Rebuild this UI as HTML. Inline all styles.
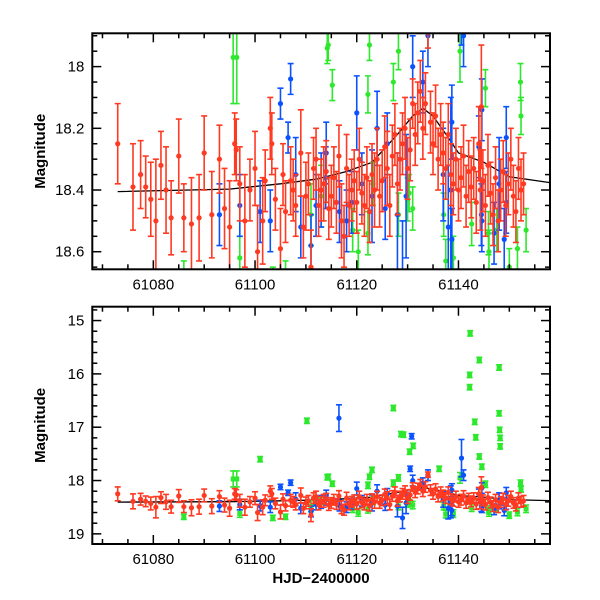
<!DOCTYPE html>
<html><head><meta charset="utf-8"><style>
body{margin:0;background:#fff}
svg{display:block;font-family:"Liberation Sans",sans-serif}
</style></head><body>
<svg id="c" width="600" height="600"></svg>
<script>
const redT=[61073,61076,61077.5,61078.5,61079.5,61080.5,61081.5,61082.5,61083.5,61085,61086,61087.5,61089,61090,61091.5,61093,61094,61095,61096,61096.3,61097,61098,61099,61100,61100.5,61101.5,61102,61103,61103.3,61104,61105,61105.5,61106,61107,61107.5,61108,61109,61109.5,61110,61110.5,61111,61111.5,61112,61112.5,61113,61113.5,61114,61114.5,61115,61115.5,61116,61116.5,61117,61117.5,61118,61118.5,61119,61119.5,61120,61120.5,61121,61121.5,61122,61122.5,61123,61123.5,61124,61124.5,61125,61125.5,61126,61126.5,61127,61127.5,61128,61128.5,61129,61129.5,61130,61130.5,61131,61131.5,61132,61132.5,61133,61133.5,61134,61134.5,61135,61135.5,61136,61136.5,61137,61137.5,61138,61138.5,61139,61139.5,61140,61140.5,61141,61141.5,61142,61142.5,61143,61143.5,61144,61144.3,61144.5,61144.8,61145.3,61145.8,61146.3,61146.8,61147.3,61147.8,61148.3,61148.8,61149.3,61149.8,61150.3,61150.8,61151.3,61151.8,61152.3,61152.8];
const redM=[18.25,18.39,18.35,18.39,18.43,18.50,18.32,18.40,18.49,18.29,18.49,18.51,18.49,18.28,18.48,18.30,18.46,18.52,18.25,18.27,18.38,18.50,18.40,18.33,18.60,18.50,18.37,18.20,18.25,18.43,18.59,18.35,18.47,18.37,18.40,18.45,18.28,18.52,18.42,18.38,18.65,18.33,18.30,18.45,18.40,18.38,18.34,18.46,18.42,18.36,18.44,18.29,18.50,18.55,18.33,18.45,18.40,18.37,18.44,18.30,18.41,18.45,18.36,18.47,18.35,18.40,18.30,18.42,18.37,18.26,18.33,18.45,18.29,18.22,18.38,18.30,18.25,18.20,18.33,18.27,18.12,18.22,18.15,18.08,18.20,18.12,17.89,18.18,18.25,18.16,18.30,18.22,18.28,18.33,18.22,18.35,18.38,18.30,18.40,18.36,18.29,18.42,18.34,18.39,18.33,18.44,18.25,18.40,18.13,18.37,18.45,18.32,18.41,18.48,18.36,18.50,18.40,18.34,18.45,18.38,18.30,18.42,18.47,18.33,18.40,18.38];
const redE=[0.13,0.14,0.11,0.1,0.12,0.2,0.11,0.14,0.12,0.12,0.11,0.15,0.14,0.12,0.14,0.11,0.13,0.15,0.1,0.1,0.12,0.15,0.1,0.12,0.15,0.14,0.1,0.1,0.1,0.1,0.13,0.1,0.1,0.11,0.1,0.1,0.14,0.1,0.11,0.1,0.12,0.1,0.1,0.1,0.1,0.12,0.1,0.1,0.1,0.1,0.1,0.1,0.12,0.1,0.11,0.1,0.1,0.1,0.1,0.1,0.1,0.1,0.1,0.1,0.1,0.12,0.1,0.1,0.1,0.1,0.12,0.1,0.1,0.1,0.1,0.1,0.1,0.1,0.1,0.1,0.08,0.1,0.1,0.1,0.1,0.1,0.05,0.1,0.1,0.1,0.1,0.1,0.1,0.1,0.1,0.1,0.1,0.1,0.1,0.1,0.1,0.1,0.1,0.1,0.1,0.1,0.12,0.13,0.2,0.1,0.1,0.1,0.1,0.1,0.1,0.1,0.1,0.1,0.1,0.1,0.1,0.1,0.1,0.1,0.1,0.1];
const blueT=[61093,61097,61101,61103,61105,61106.5,61107,61108,61109,61112,61113,61114,61116.5,61118,61119,61120,61121,61123,61124,61126,61128,61129,61130.5,61130.8,61131,61133,61134,61137,61138,61138.5,61140.6,61141,61144,61144.5,61147,61148,61149,61113.9,61116.6,61125.6,61129.7,61138.7,61138.7,61144.6,61144.6,61149.4,61149.4,61111];
const blueM=[18.48,18.45,18.47,18.50,18.12,18.23,18.04,18.35,18.52,18.45,18.40,18.28,16.83,18.50,18.44,18.15,18.38,18.42,18.20,18.25,18.48,18.70,17.78,17.17,18.00,18.05,17.90,18.35,18.52,18.40,17.58,17.90,18.26,18.48,18.54,18.38,18.56,18.36,18.47,18.46,18.42,18.18,18.56,18.14,18.50,18.23,18.44,18.58];
const blueE=[0.1,0.1,0.1,0.1,0.05,0.05,0.05,0.12,0.1,0.1,0.12,0.1,0.25,0.1,0.1,0.12,0.1,0.15,0.12,0.1,0.2,0.2,0.05,0.05,0.1,0.1,0.1,0.15,0.2,0.3,0.35,0.1,0.1,0.1,0.1,0.15,0.1,0.1,0.1,0.1,0.2,0.12,0.1,0.1,0.1,0.1,0.1,0.1];
const greenT=[61086,61095.7,61096.4,61097,61101,61103.5,61106,61110.2,61111,61113,61114.2,61114.4,61115.2,61119.2,61122.2,61122.2,61122.5,61123,61127.2,61127.2,61128.2,61128.7,61129.2,61130,61130.4,61131,61131.1,61136.2,61137.1,61137.5,61140.3,61142.2,61142.3,61142.2,61142.6,61143.2,61143.4,61144.1,61144.1,61144.6,61145.3,61145.9,61148,61148,61148.1,61148.2,61148.2,61151.6,61152.2,61152.3,61153.3,61120.3,61123.2,61128.2,61130.3,61147.5,61146,61139,61150];
const greenM=[18.68,17.97,17.97,18.62,17.60,18.70,18.68,16.88,18.48,18.42,17.94,17.93,18.06,18.53,18.09,18.54,17.93,17.80,16.64,18.05,17.95,17.13,17.14,18.43,17.46,18.46,17.35,17.78,18.48,18.63,17.95,16.02,15.24,16.25,18.51,16.90,17.19,15.74,17.55,17.74,18.07,18.54,15.88,16.74,17.05,17.20,17.36,18.59,18.05,18.16,18.53,18.60,18.38,18.48,18.41,18.53,18.60,18.62,18.65];
const greenE=[0.05,0.15,0.15,0.07,0.05,0.05,0.05,0.05,0.1,0.1,0.05,0.05,0.05,0.07,0.06,0.07,0.05,0.05,0.05,0.06,0.06,0.05,0.05,0.07,0.05,0.07,0.05,0.05,0.07,0.07,0.1,0.05,0.05,0.05,0.07,0.05,0.05,0.05,0.05,0.05,0.06,0.07,0.05,0.05,0.05,0.05,0.05,0.07,0.06,0.06,0.07,0.07,0.07,0.07,0.06,0.07,0.07,0.07,0.06];
const modelT=[61073,61095,61105,61112,61118,61123,61128,61131,61133,61135,61138,61140,61145,61150,61158];
const modelM=[18.405,18.397,18.38,18.365,18.34,18.31,18.22,18.16,18.135,18.16,18.23,18.28,18.31,18.357,18.376];
const xTicks=[61080,61100,61120,61140];
const topTicks=[18,18.2,18.4,18.6];
const botTicks=[15,16,17,18,19];

const NS="http://www.w3.org/2000/svg";
const svg=document.getElementById('c');
function el(tag,attrs,parent){const e=document.createElementNS(NS,tag);for(const k in attrs)e.setAttribute(k,attrs[k]);(parent||svg).appendChild(e);return e;}
const X0=92.3,X1=550,D0=61068,D1=61158;
const xs=d=>X0+(d-D0)/(D1-D0)*(X1-X0);
const panels=[
 {name:'top',y0:33.3,y1:269.3,m0:17.892,m1:18.657,ticks:topTicks,minor:0.05,fmt:v=>v===18?'18':v.toFixed(1),big:false},
 {name:'bottom',y0:306.7,y1:544,m0:14.74,m1:19.19,ticks:botTicks,minor:0.2,fmt:v=>String(v),big:true}
];
const defs=el('defs',{});
panels.forEach((p,pi)=>{
 const ys=m=>p.y0+(m-p.m0)/(p.m1-p.m0)*(p.y1-p.y0);
 const cp=el('clipPath',{id:'clip'+pi},defs);
 el('rect',{x:X0,y:p.y0,width:X1-X0,height:p.y1-p.y0},cp);
 const g=el('g',{'clip-path':'url(#clip'+pi+')'});
 
 
 let dstr='';modelT.forEach((t,i)=>{dstr+=(i?'L':'M')+xs(t).toFixed(1)+','+ys(modelM[i]).toFixed(1);});
 const ml=el('path',{d:dstr,fill:'none',stroke:'#000','stroke-width':1.3},g);
 
 
 const series=[['green',greenT,greenM,greenE,'#2de82d'],['blue',blueT,blueM,blueE,'#0b52ff'],['red',redT,redM,redE,'#ff3a22']];
 series.forEach(s=>{
  const sg=el('g',{},g);
  
  
  s[1].forEach((t,i)=>{
   const x=xs(t),y=ys(s[2][i]),e=s[3][i];
   const ya=ys(s[2][i]-e),yb=ys(s[2][i]+e);
   const pg=el('g',{stroke:s[4],fill:s[4],'stroke-width':1.6},sg);
   
   
   if(Math.abs(yb-ya)>3){
    el('line',{x1:x,x2:x,y1:ya,y2:yb},pg);
    el('line',{x1:x-3,x2:x+3,y1:ya,y2:ya},pg);
    el('line',{x1:x-3,x2:x+3,y1:yb,y2:yb},pg);
   }
   if(p.big&&s[0]==='green') el('rect',{x:x-2.5,y:y-2.5,width:5,height:5,stroke:'none'},pg);
   else el('circle',{cx:x,cy:y,r:2.6,stroke:'none'},pg);
  });
 });
 const fr=el('rect',{x:X0,y:p.y0,width:X1-X0,height:p.y1-p.y0,fill:'none',stroke:'#000','stroke-width':2});
 
 
 const ax=el('g',{stroke:'#000','stroke-width':1.5});
 
 
 for(let d=61070;d<=D1;d+=5){const x=xs(d);const L=(d%20===0)?9:5;
  el('line',{x1:x,x2:x,y1:p.y1,y2:p.y1-L},ax);el('line',{x1:x,x2:x,y1:p.y0,y2:p.y0+L},ax);}
 for(let m=Math.ceil(p.m0/p.minor)*p.minor;m<=p.m1+1e-9;m+=p.minor){const y=ys(m);
  const maj=p.ticks.some(v=>Math.abs(v-m)<1e-6);const L=maj?9:5;
  el('line',{x1:X0,x2:X0+L,y1:y,y2:y},ax);el('line',{x1:X1,x2:X1-L,y1:y,y2:y},ax);}
 xTicks.forEach(v=>{const t=el('text',{x:xs(v),y:p.y1+20,'text-anchor':'middle','font-size':15});t.textContent=v;
  
  });
 p.ticks.forEach(v=>{const t=el('text',{x:X0-8,y:ys(v)+5,'text-anchor':'end','font-size':15});t.textContent=p.fmt(v);
  
  });
 const yl=el('text',{x:0,y:0,transform:'translate(45,'+((p.y0+p.y1)/2)+') rotate(-90)','text-anchor':'middle','font-size':15,'font-weight':'bold'});
 yl.textContent='Magnitude';
 
 
});
const xl=el('text',{x:321,y:583,'text-anchor':'middle','font-size':15,'font-weight':'bold'});
xl.textContent='HJD\u22122400000';


</script>
</body></html>
